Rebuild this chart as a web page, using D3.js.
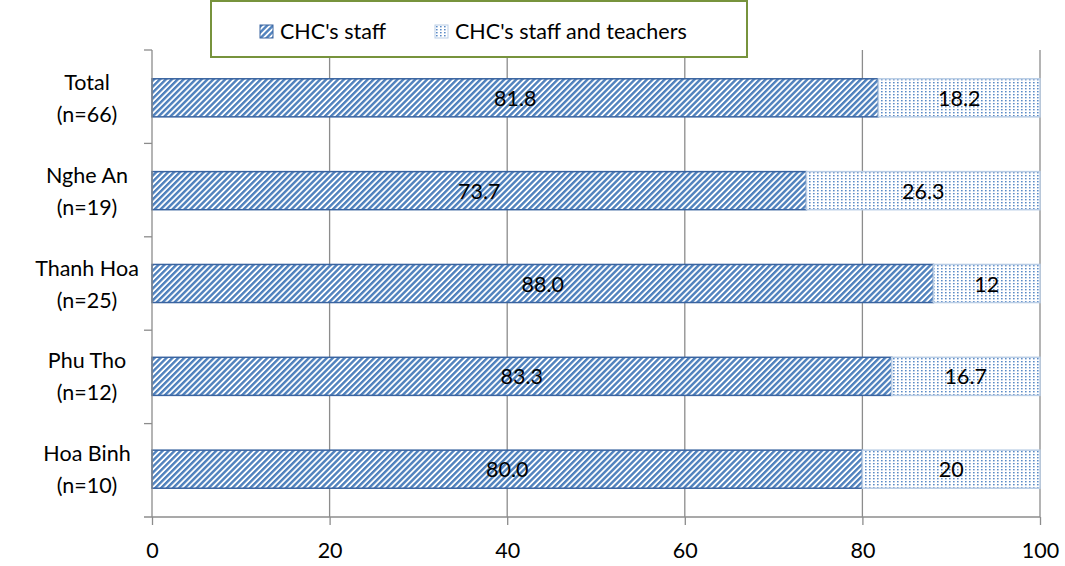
<!DOCTYPE html>
<html>
<head>
<meta charset="utf-8">
<script src="https://cdn.jsdelivr.net/npm/d3@7"></script>
<style>
  body { margin: 0; background: #fff; }
  text { font-family: Lato, "Open Sans", sans-serif; fill: #000; }
</style>
</head>
<body>
<svg id="chart" width="1065" height="566"></svg>
<script>
// categories, top to bottom
var categories = ["Total|(n=66)", "Nghe An|(n=19)", "Thanh Hoa|(n=25)", "Phu Tho|(n=12)", "Hoa Binh|(n=10)"];
var staff = [81.8, 73.7, 88.0, 83.3, 80.0];
var staffTeachers = [18.2, 26.3, 12, 16.7, 20];
var staffLabels = ["81.8", "73.7", "88.0", "83.3", "80.0"];
var teacherLabels = ["18.2", "26.3", "12", "16.7", "20"];
var xTicks = [0, 20, 40, 60, 80, 100];
var seriesNames = ["CHC's staff", "CHC's staff and teachers"];

var svg = d3.select("#chart");
var plotLeft = 152, plotRight = 1040, plotTop = 50, plotBottom = 517;
var fontSize = "21.5px";

var x = d3.scaleLinear().domain([0, 100]).range([plotLeft, plotRight]);
var y = d3.scaleBand().domain(categories).range([plotTop, plotBottom]).paddingInner(0.59).paddingOuter(0.31);

// patterns
var defs = svg.append("defs");
var stripe = defs.append("pattern").attr("id", "stripe")
    .attr("patternUnits", "userSpaceOnUse").attr("width", 4.2).attr("height", 4.2)
    .attr("patternTransform", "rotate(45)");
stripe.append("rect").attr("width", 4.2).attr("height", 4.2).attr("fill", "#fff");
stripe.append("rect").attr("width", 2.4).attr("height", 4.2).attr("fill", "#4F81BD");

var dots = defs.append("pattern").attr("id", "dots")
    .attr("patternUnits", "userSpaceOnUse").attr("width", 4).attr("height", 3);
dots.append("rect").attr("width", 4).attr("height", 3).attr("fill", "#fff");
dots.append("rect").attr("x", 1).attr("y", 1).attr("width", 1.6).attr("height", 1.4).attr("fill", "#5A8AC6");

// gridlines
svg.append("g").selectAll("line").data(xTicks.slice(1)).enter().append("line")
    .attr("x1", function (d) { return x(d); }).attr("x2", function (d) { return x(d); })
    .attr("y1", plotTop).attr("y2", plotBottom)
    .attr("stroke", "#8c8c8c").attr("stroke-width", 1.3);

// bars
var rows = svg.append("g").selectAll("g").data(categories).enter().append("g");
rows.append("rect")
    .attr("x", x(0))
    .attr("y", function (d) { return y(d); })
    .attr("width", function (d, i) { return x(staff[i]) - x(0); })
    .attr("height", y.bandwidth())
    .attr("fill", "url(#stripe)").attr("stroke", "#3A64A0").attr("stroke-width", 1.5);
rows.append("rect")
    .attr("x", function (d, i) { return x(staff[i]); })
    .attr("y", function (d) { return y(d); })
    .attr("width", function (d, i) { return x(staff[i] + staffTeachers[i]) - x(staff[i]); })
    .attr("height", y.bandwidth())
    .attr("fill", "url(#dots)").attr("stroke", "#B9CDE5").attr("stroke-width", 1.5);

// value labels
rows.append("text")
    .attr("x", function (d, i) { return x(staff[i] / 2); })
    .attr("y", function (d) { return y(d) + y.bandwidth() / 2 + 8; })
    .attr("text-anchor", "middle").style("font-size", fontSize)
    .text(function (d, i) { return staffLabels[i]; });
rows.append("text")
    .attr("x", function (d, i) { return x(staff[i] + staffTeachers[i] / 2); })
    .attr("y", function (d) { return y(d) + y.bandwidth() / 2 + 8; })
    .attr("text-anchor", "middle").style("font-size", fontSize)
    .text(function (d, i) { return teacherLabels[i]; });

// x axis
var xAxis = d3.axisBottom(x).tickValues(xTicks).tickSize(8).tickPadding(18);
var gx = svg.append("g").attr("transform", "translate(0," + plotBottom + ")").call(xAxis);
gx.select(".domain").attr("stroke", "#8c8c8c").attr("stroke-width", 1.3).attr("d", "M" + (plotLeft - 8) + ",0H" + plotRight);
gx.selectAll(".tick line").attr("stroke", "#8c8c8c").attr("stroke-width", 1.3);
gx.selectAll(".tick text").style("font-size", fontSize).style("font-family", "Lato, sans-serif").attr("fill", "#000");

// y axis
svg.append("line").attr("x1", plotLeft).attr("x2", plotLeft).attr("y1", plotTop).attr("y2", plotBottom)
    .attr("stroke", "#8c8c8c").attr("stroke-width", 1.3);
var step = (plotBottom - plotTop) / categories.length;
svg.append("g").selectAll("line").data(d3.range(categories.length)).enter().append("line")
    .attr("x1", plotLeft - 8).attr("x2", plotLeft)
    .attr("y1", function (d) { return plotTop + d * step; })
    .attr("y2", function (d) { return plotTop + d * step; })
    .attr("stroke", "#8c8c8c").attr("stroke-width", 1.3);

var catLabels = svg.append("g").selectAll("text").data(categories).enter().append("text")
    .attr("text-anchor", "middle").style("font-size", fontSize)
    .attr("transform", function (d) { return "translate(" + 87 + "," + (y(d) + y.bandwidth() / 2) + ")"; });
catLabels.append("tspan").attr("x", 0).attr("dy", -8).text(function (d) { return d.split("|")[0]; });
catLabels.append("tspan").attr("x", 0).attr("dy", 32).text(function (d) { return d.split("|")[1]; });

// legend
svg.append("rect").attr("x", 211).attr("y", 1).attr("width", 536).attr("height", 56)
    .attr("fill", "#fff").attr("stroke", "#77933C").attr("stroke-width", 2);
var legendX = [260, 435];
var fills = ["url(#stripe)", "url(#dots)"];
var strokes = ["#3A64A0", "#B9CDE5"];
var lg = svg.append("g").selectAll("g").data(seriesNames).enter().append("g")
    .attr("transform", function (d, i) { return "translate(" + legendX[i] + ",25)"; });
lg.append("rect").attr("width", 13).attr("height", 13)
    .attr("fill", function (d, i) { return fills[i]; })
    .attr("stroke", function (d, i) { return strokes[i]; });
lg.append("text").attr("x", 20).attr("y", 14).style("font-size", fontSize).text(function (d) { return d; });
</script>
</body>
</html>
